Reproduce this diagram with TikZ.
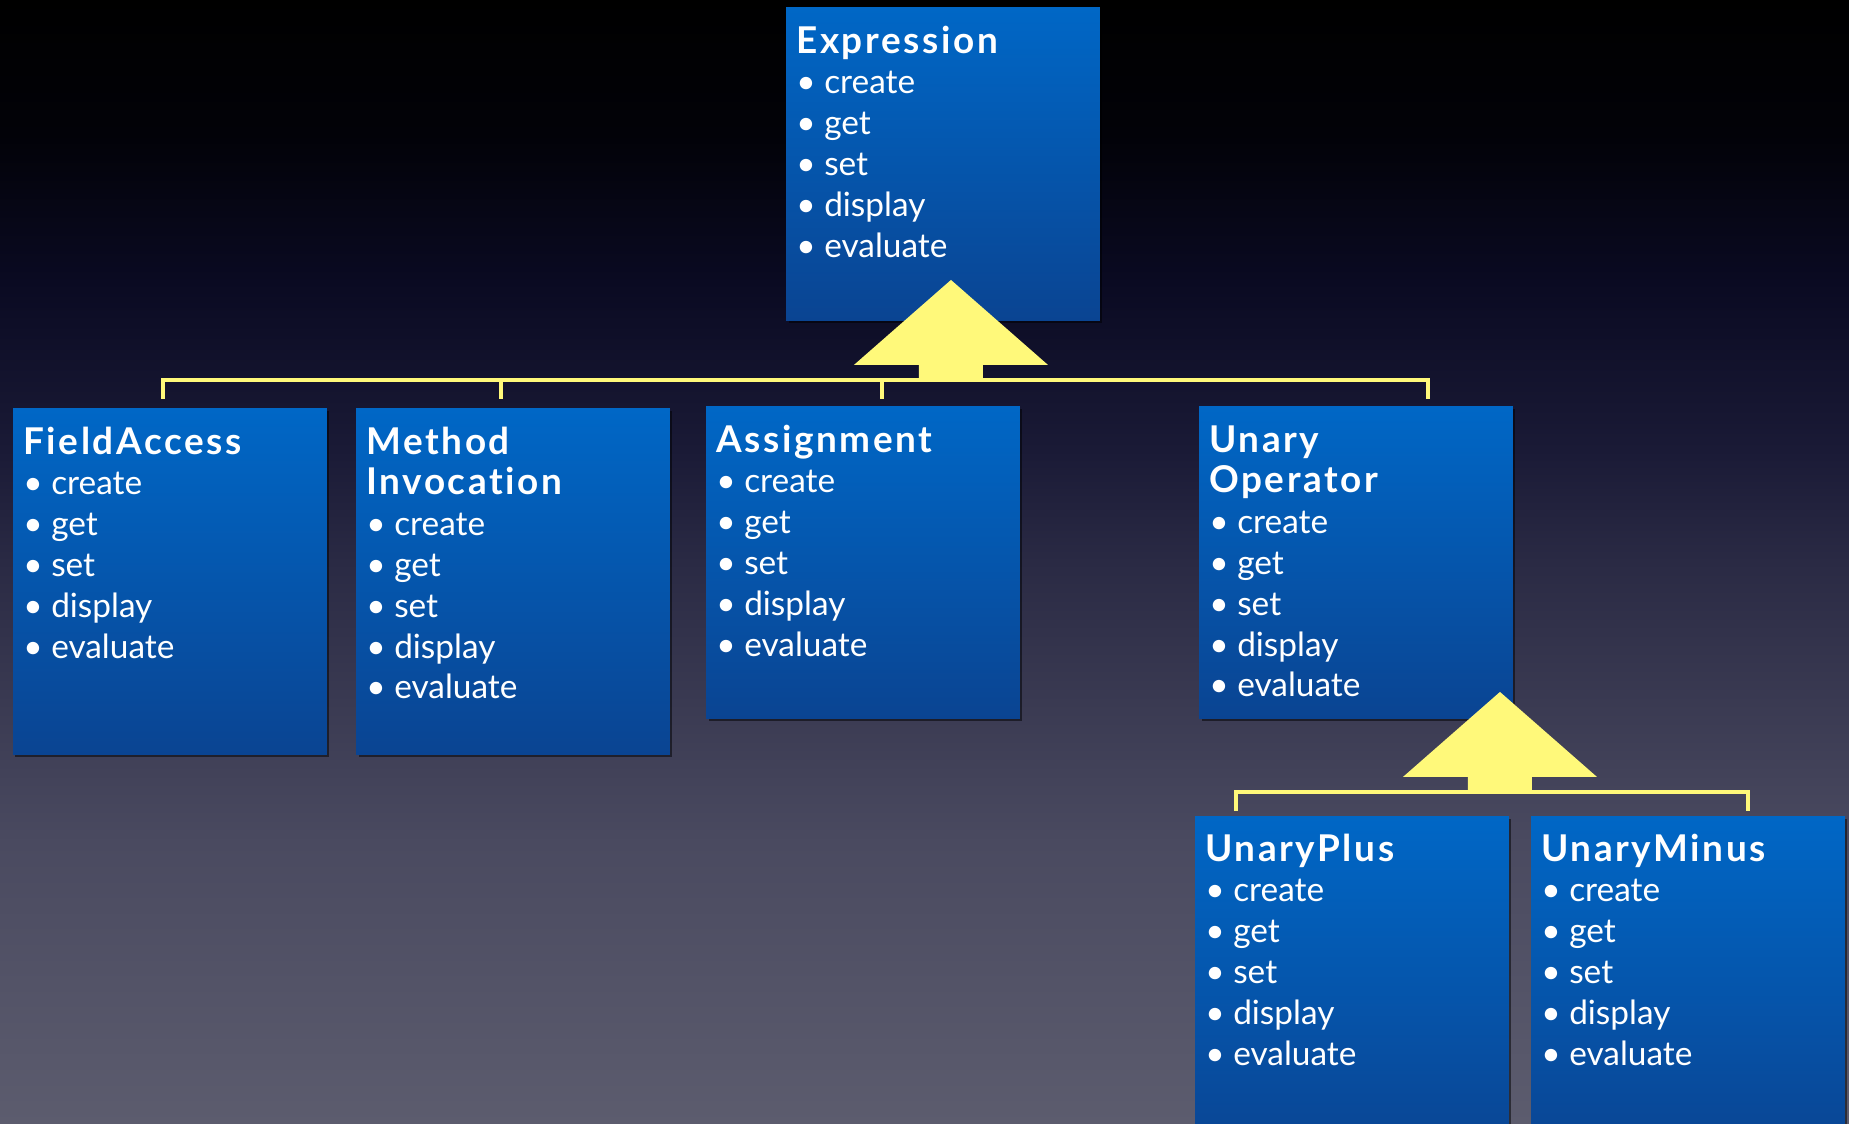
\documentclass[tikz,border=0pt]{standalone}
\usepackage{fontspec}
\setmainfont{Lato}
\usepackage{xcolor}
\usepackage{tikz}
\usetikzlibrary{positioning,calc,shadows}

\definecolor{boxtop}{RGB}{0,103,198}
\definecolor{boxbot}{RGB}{10,68,146}
\definecolor{isayellow}{RGB}{255,249,122}
\definecolor{bgbot}{RGB}{92,92,110}
\definecolor{bglow}{RGB}{74,74,96}
\definecolor{bgmid}{RGB}{42,42,68}
\definecolor{bgnavy}{RGB}{26,26,54}
\definecolor{bgdark}{RGB}{10,10,34}
\definecolor{bgtop}{RGB}{2,2,8}

\pgfdeclareverticalshading{slidebg}{100bp}{color(0bp)=(bgbot); color(25bp)=(bgbot); color(37.5bp)=(bglow); color(50bp)=(bgmid); color(55bp)=(bgnavy); color(62.5bp)=(bgdark); color(69bp)=(bgtop); color(75bp)=(black); color(100bp)=(black)}

\newcommand{\cname}[1]{{\fontsize{21}{23.2}\selectfont\bfseries\addfontfeature{LetterSpace=7,Ligatures=NoCommon}\rule{0pt}{17pt}#1}}
\newcommand{\opslist}{\textbullet\ create\\\textbullet\ get\\\textbullet\ set\\\textbullet\ display\\\textbullet\ evaluate}

\begin{document}
\begin{tikzpicture}[x=0.02cm, y=-0.02cm]
    \tikzstyle{classbox} = [rectangle, top color=boxtop, bottom color=boxbot, minimum width=6.28cm, inner sep=0pt, outer sep=0pt, anchor=north west, drop shadow={fill=black, opacity=0.5, shadow xshift=0.05cm, shadow yshift=-0.05cm}]
    \tikzstyle{members} = [anchor=north west, inner sep=0pt, align=left, text=white, font=\fontsize{19}{23.2}\selectfont]
    \tikzstyle{bus} = [draw=isayellow, line width=2.3pt]
    \tikzset{isa/.pic={\fill[isayellow] (-32,2) -- (-32,-15) -- (-97,-15) -- (0,-100) -- (97,-15) -- (32,-15) -- (32,2) -- cycle;}}

    \useasboundingbox (0,0) rectangle (1849,1124);
    \clip (0,0) rectangle (1849,1124);
    \shade[shading=slidebg] (0,0) rectangle (1849,1124);

    % Base class - top
    \node [classbox, minimum height=6.26cm] (expr) at (786,8) {};

    % Subclasses - middle row
    \node [classbox, minimum height=6.92cm] (fa) at (13,409) {};
    \node [classbox, minimum height=6.92cm] (mi) at (356,409) {};
    \node [classbox, minimum height=6.24cm] (asg) at (706,407) {};
    \node [classbox, minimum height=6.24cm] (uop) at (1199,407) {};

    % Unary subclasses - bottom right
    \node [classbox, minimum height=6.8cm] (up) at (1195,816) {};
    \node [classbox, minimum height=6.8cm] (um) at (1531,816) {};

    % Junctions
    \coordinate (j1) at ($(expr.south)+(8,59)$);
    \coordinate (j2) at ($(uop.south)+(144,73)$);

    % Inheritance lines
    \draw [bus] ($(fa.north)+(-7,-10)$) |- (j1) -| ($(uop.north)+(72,-8)$);
    \draw [bus] ($(mi.north)+(-12,-10)$) |- (j1);
    \draw [bus] ($(asg.north)+(19,-8)$) |- (j1);
    \draw [bus] ($(up.north)+(-116,-5)$) |- (j2) -| ($(um.north)+(60,-5)$);

    \pic at (j1) {isa};
    \pic at (j2) {isa};

    % Texts
    \node [members] (expr-t) at ($(expr.north west)+(10,15)$) {\cname{Expression}\\\opslist};
    \node [members] (fa-t) at ($(fa.north west)+(10,15)$) {\cname{FieldAccess}\\\opslist};
    \node [members] (mi-t) at ($(mi.north west)+(10,15)$) {\cname{Method}\\\cname{Invocation}\\\opslist};
    \node [members] (asg-t) at ($(asg.north west)+(10,15)$) {\cname{Assignment}\\\opslist};
    \node [members] (uop-t) at ($(uop.north west)+(10,15)$) {\cname{Unary}\\\cname{Operator}\\\opslist};
    \node [members] (up-t) at ($(up.north west)+(10,15)$) {\cname{UnaryPlus}\\\opslist};
    \node [members] (um-t) at ($(um.north west)+(10,15)$) {\cname{UnaryMinus}\\\opslist};
\end{tikzpicture}
\end{document}
